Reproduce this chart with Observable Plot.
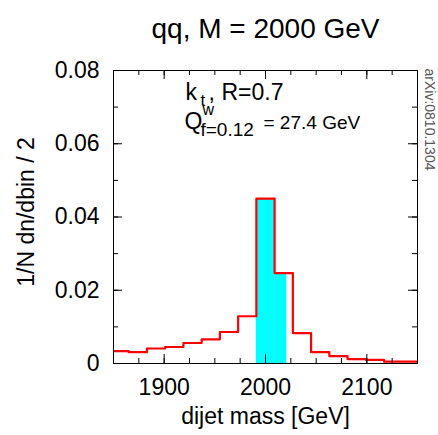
<!DOCTYPE html>
<html><head><meta charset="utf-8">
<script src="https://cdn.jsdelivr.net/npm/d3@7"></script>
<script src="https://cdn.jsdelivr.net/npm/@observablehq/plot@0.6"></script>
<style>body{margin:0;background:#fff}</style>
</head><body><div id="chart"></div>
<script>
// ---- data ----
const binLow = [1847,1865,1883,1901,1919,1937,1955,1973,1991,2009,2027,2045,2063,2081,2099,2117,2135];
const binWidth = 18;
const binValues = [0.0034,0.0031,0.0041,0.0045,0.0056,0.0066,0.0086,0.0129,0.0450,0.0247,0.0083,0.0031,0.0020,0.0012,0.0010,0.0005,0.0005];
const windowRange = [1991, 2021];           // cyan Q^w window
const xDomain = [1850, 2150];
const yDomain = [0, 0.08];
const xTicks = [1900, 2000, 2100];
const xMinor = [1875, 1900, 1925, 1950, 1975, 2000, 2025, 2050, 2075, 2100, 2125];
const yTicks = [0, 0.02, 0.04, 0.06, 0.08];
const yMajor = [0.02, 0.04, 0.06];
const yMinor = [0.01, 0.02, 0.03, 0.04, 0.05, 0.06, 0.07];
const titleText = "qq, M = 2000 GeV";
const xLabel = "dijet mass [GeV]";
const yLabel = "1/N dn/dbin / 2";
const noteText = "arXiv:0810.1304";

// ---- derived tables ----
const stepPts = binLow.map((x, i) => ({x, y: binValues[i]}));
stepPts.push({x: binLow[binLow.length - 1] + binWidth, y: binValues[binValues.length - 1]});
const cyanBins = binLow.map((lo, i) => ({lo, hi: lo + binWidth, v: binValues[i]}))
  .filter(d => d.hi > windowRange[0] && d.lo < windowRange[1])
  .map(d => ({x1: Math.max(d.lo, windowRange[0]), x2: Math.min(d.hi, windowRange[1]), y: d.v}));

const W = 438, H = 435, mL = 113, mR = 21, mT = 70, mB = 72;
const fw = W - mL - mR, fh = H - mT - mB;
const minorLen = 5, majorLen = 9;
const tickStyle = {stroke: "black", strokeWidth: 1};
const font = "'Liberation Sans', Arial, Helvetica, sans-serif";

const t = (s, o) => Plot.text([s], {text: d => d, fontFamily: font, fill: "black", ...o});
const ann = (s, dx, dy, size) => t(s, {frameAnchor: "top-left", dx, dy, textAnchor: "start", lineAnchor: "bottom", fontSize: size});

const chart = Plot.plot({
  width: W, height: H,
  marginLeft: mL, marginRight: mR, marginTop: mT, marginBottom: mB,
  style: {fontFamily: font, background: "white", color: "black"},
  x: {domain: xDomain},
  y: {domain: yDomain},
  marks: [
    Plot.rectY(cyanBins, {x1: "x1", x2: "x2", y: "y", fill: "#00ffff"}),
    Plot.line(stepPts, {x: "x", y: "y", curve: "step-after", stroke: "#ff0000", strokeWidth: 2.2, clip: true}),
    Plot.frame({stroke: "black", strokeWidth: 1}),
    Plot.axisX({anchor: "bottom", ticks: xTicks, tickSize: 0, tickPadding: 15, tickFormat: d => String(d), fontSize: 23, label: null}),
    Plot.axisY({anchor: "left", ticks: yTicks, tickSize: 0, tickPadding: 14, tickFormat: d => d === 0 ? "0" : d.toFixed(2), fontSize: 23, label: null}),
    // titles
    t(titleText, {frameAnchor: "top", dy: -33, lineAnchor: "bottom", fontSize: 28}),
    t(xLabel, {frameAnchor: "bottom", dy: 60, lineAnchor: "bottom", fontSize: 23}),
    t(yLabel, {frameAnchor: "left", dx: -87, dy: -5, rotate: -90, textAnchor: "middle", lineAnchor: "middle", fontSize: 23}),
    t(noteText, {frameAnchor: "top-right", dx: 12, dy: 49, rotate: 90, textAnchor: "middle", lineAnchor: "middle", fontSize: 14, fill: "#555"}),
    // annotation: k_t, R=0.7
    ann("k", 72, 29, 23),
    ann("t", 87, 35, 17),
    ann(",", 95, 29, 23),
    ann("R=0.7", 108, 29, 23),
    // annotation: Q^w_{f=0.12} = 27.4 GeV
    ann("Q", 71, 58, 23),
    ann("w", 89, 44, 16),
    ann("f=0.12", 87, 65, 19),
    ann("= 27.4 GeV", 150, 58, 19),
    // inward ticks on all four sides
    Plot.tickX(xMinor, {x: d => d, insetTop: fh - minorLen, ...tickStyle}),
    Plot.tickX(xMinor, {x: d => d, insetBottom: fh - minorLen, ...tickStyle}),
    Plot.tickX(xTicks, {x: d => d, insetTop: fh - majorLen, ...tickStyle}),
    Plot.tickX(xTicks, {x: d => d, insetBottom: fh - majorLen, ...tickStyle}),
    Plot.tickY(yMinor, {y: d => d, insetRight: fw - minorLen, ...tickStyle}),
    Plot.tickY(yMinor, {y: d => d, insetLeft: fw - minorLen, ...tickStyle}),
    Plot.tickY(yMajor, {y: d => d, insetRight: fw - majorLen, ...tickStyle}),
    Plot.tickY(yMajor, {y: d => d, insetLeft: fw - majorLen, ...tickStyle})
  ]
});
document.getElementById("chart").appendChild(chart);
</script>
</body></html>
